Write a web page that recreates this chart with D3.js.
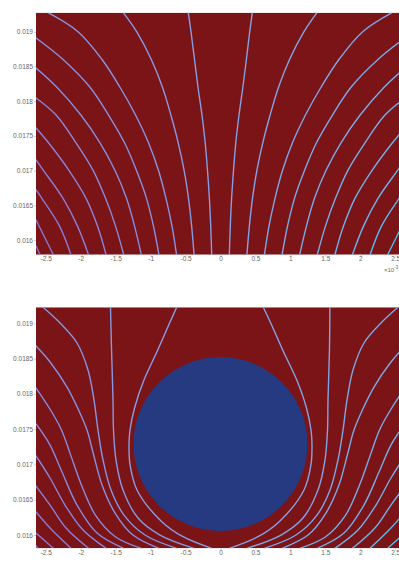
<!DOCTYPE html>
<html><head><meta charset="utf-8">
<script src="https://cdn.jsdelivr.net/npm/d3@7"></script>
<style>html,body{margin:0;padding:0;background:#fff;}svg{display:block;}</style>
</head><body>
<script>
// ---- data (x in units of 1e-3) ----
const xTicks = [-2.5,-2,-1.5,-1,-0.5,0,0.5,1,1.5,2,2.5];
const xTickLabels = ["-2.5","-2","-1.5","-1","-0.5","0","0.5","1","1.5","2","2.5"];
const yTicks = [0.016,0.0165,0.017,0.0175,0.018,0.0185,0.019];
const yTickLabels = ["0.016","0.0165","0.017","0.0175","0.018","0.0185","0.019"];
const xExtent = [-2.64, 2.64];
const topYExtent = [0.015788, 0.019274];
const bottomYExtent = [0.015812, 0.019227];
const inclusionCenter = [0, 0.01729];
const inclusionRadiusX = 1.245;
const inclusionRadiusY = 0.001232;

// field lines of the upper panel, left to right
const topPanelLines = [
 [[-2.639,0.015914],[-2.582,0.015788]],
 [[-2.639,0.016288],[-2.511,0.016029],[-2.392,0.015788]],
 [[-2.639,0.016720],[-2.556,0.0166],[-2.303,0.0162],[-2.140,0.015788]],
 [[-2.639,0.017152],[-2.532,0.0170],[-2.253,0.0166],[-2.046,0.0162],[-1.888,0.015788]],
 [[-2.639,0.017613],[-2.461,0.0174],[-2.167,0.0170],[-1.924,0.0166],[-1.760,0.0162],[-1.637,0.015788]],
 [[-2.639,0.018045],[-2.353,0.0178],[-2.067,0.0174],[-1.821,0.0170],[-1.645,0.0166],[-1.502,0.0162],[-1.385,0.015788]],
 [[-2.639,0.018477],[-2.341,0.0182],[-1.998,0.0178],[-1.724,0.0174],[-1.509,0.0170],[-1.345,0.0166],[-1.230,0.0162],[-1.133,0.015788]],
 [[-2.639,0.018909],[-2.253,0.0186],[-1.867,0.0182],[-1.602,0.0178],[-1.373,0.0174],[-1.202,0.0170],[-1.059,0.0166],[-0.959,0.0162],[-0.881,0.015788]],
 [[-2.468,0.019274],[-2.039,0.0190],[-1.695,0.0186],[-1.438,0.0182],[-1.216,0.0178],[-1.030,0.0174],[-0.887,0.0170],[-0.780,0.0166],[-0.694,0.0162],[-0.629,0.015788]],
 [[-1.391,0.019274],[-1.200,0.0190],[-0.990,0.0186],[-0.830,0.0182],[-0.710,0.0178],[-0.605,0.0174],[-0.520,0.0170],[-0.458,0.0166],[-0.413,0.0162],[-0.378,0.015788]],
 [[-0.461,0.019274],[-0.422,0.0190],[-0.372,0.0186],[-0.322,0.0182],[-0.265,0.0178],[-0.219,0.0174],[-0.186,0.0170],[-0.159,0.0166],[-0.140,0.0162],[-0.126,0.015788]],
 [[0.455,0.019274],[0.418,0.0190],[0.370,0.0186],[0.320,0.0182],[0.265,0.0178],[0.219,0.0174],[0.186,0.0170],[0.159,0.0166],[0.140,0.0162],[0.126,0.015788]],
 [[1.380,0.019274],[1.195,0.0190],[0.988,0.0186],[0.830,0.0182],[0.710,0.0178],[0.605,0.0174],[0.520,0.0170],[0.458,0.0166],[0.413,0.0162],[0.378,0.015788]],
 [[2.455,0.019274],[2.035,0.0190],[1.695,0.0186],[1.438,0.0182],[1.216,0.0178],[1.030,0.0174],[0.887,0.0170],[0.780,0.0166],[0.694,0.0162],[0.629,0.015788]],
 [[2.639,0.018909],[2.253,0.0186],[1.867,0.0182],[1.602,0.0178],[1.373,0.0174],[1.202,0.0170],[1.059,0.0166],[0.959,0.0162],[0.881,0.015788]],
 [[2.639,0.018477],[2.341,0.0182],[1.998,0.0178],[1.724,0.0174],[1.509,0.0170],[1.345,0.0166],[1.230,0.0162],[1.133,0.015788]],
 [[2.639,0.018045],[2.353,0.0178],[2.067,0.0174],[1.821,0.0170],[1.645,0.0166],[1.502,0.0162],[1.385,0.015788]],
 [[2.639,0.017613],[2.461,0.0174],[2.167,0.0170],[1.924,0.0166],[1.760,0.0162],[1.637,0.015788]],
 [[2.639,0.017152],[2.532,0.0170],[2.253,0.0166],[2.046,0.0162],[1.888,0.015788]],
 [[2.639,0.016720],[2.556,0.0166],[2.303,0.0162],[2.140,0.015788]],
 [[2.639,0.016288],[2.511,0.016029],[2.392,0.015788]],
 [[2.639,0.015914],[2.582,0.015788]]
];

// field lines of the lower panel (with the circular inclusion), left to right
const bottomPanelLines = [
 [[-2.639,0.015844],[-2.611,0.015812]],
 [[-2.639,0.016028],[-2.392,0.015812]],
 [[-2.639,0.016326],[-2.439,0.016099],[-2.140,0.015812]],
 [[-2.639,0.016694],[-2.439,0.016425],[-2.210,0.016099],[-1.888,0.015812]],
 [[-2.639,0.017120],[-2.439,0.016808],[-2.225,0.016425],[-1.967,0.016071],[-1.637,0.015812]],
 [[-2.639,0.017573],[-2.439,0.017275],[-2.268,0.016893],[-2.053,0.016425],[-1.767,0.016028],[-1.385,0.015812]],
 [[-2.639,0.018083],[-2.450,0.017800],[-2.280,0.017500],[-2.150,0.017150],[-1.990,0.016710],[-1.790,0.016283],[-1.500,0.015972],[-1.133,0.015812]],
 [[-2.639,0.018678],[-2.439,0.018452],[-2.196,0.018097],[-2.030,0.017771],[-1.910,0.017488],[-1.815,0.017134],[-1.695,0.016709],[-1.509,0.016312],[-1.252,0.016000],[-0.881,0.015812]],
 [[-2.539,0.019227],[-2.296,0.019004],[-2.053,0.018721],[-1.896,0.018338],[-1.810,0.017913],[-1.753,0.017488],[-1.681,0.017063],[-1.567,0.016638],[-1.381,0.016283],[-1.080,0.016000],[-0.629,0.015812]],
 [[-1.574,0.019227],[-1.559,0.018622],[-1.538,0.017913],[-1.531,0.017488],[-1.495,0.017063],[-1.395,0.016638],[-1.180,0.016241],[-0.866,0.016000],[-0.378,0.015812]],
 [[-0.627,0.019227],[-0.730,0.019000],[-0.908,0.018600],[-1.094,0.018199],[-1.230,0.017800],[-1.295,0.017488],[-1.309,0.017290],[-1.295,0.017000],[-1.195,0.016638],[-0.851,0.016200],[-0.536,0.015976],[-0.126,0.015812]],
 [[0.612,0.019227],[0.720,0.019000],[0.900,0.018600],[1.090,0.018199],[1.230,0.017800],[1.295,0.017488],[1.309,0.017290],[1.295,0.017000],[1.195,0.016638],[0.851,0.016200],[0.536,0.015976],[0.126,0.015812]],
 [[1.565,0.019227],[1.559,0.018622],[1.538,0.017913],[1.531,0.017488],[1.495,0.017063],[1.395,0.016638],[1.180,0.016241],[0.866,0.016000],[0.378,0.015812]],
 [[2.539,0.019227],[2.296,0.019004],[2.053,0.018721],[1.896,0.018338],[1.810,0.017913],[1.753,0.017488],[1.681,0.017063],[1.567,0.016638],[1.381,0.016283],[1.080,0.016000],[0.629,0.015812]],
 [[2.639,0.018678],[2.439,0.018452],[2.196,0.018097],[2.030,0.017771],[1.910,0.017488],[1.815,0.017134],[1.695,0.016709],[1.509,0.016312],[1.252,0.016000],[0.881,0.015812]],
 [[2.639,0.018083],[2.450,0.017800],[2.280,0.017500],[2.150,0.017150],[1.990,0.016710],[1.790,0.016283],[1.500,0.015972],[1.133,0.015812]],
 [[2.639,0.017573],[2.439,0.017275],[2.268,0.016893],[2.053,0.016425],[1.767,0.016028],[1.385,0.015812]],
 [[2.639,0.017120],[2.439,0.016808],[2.225,0.016425],[1.967,0.016071],[1.637,0.015812]],
 [[2.639,0.016694],[2.439,0.016425],[2.210,0.016099],[1.888,0.015812]],
 [[2.639,0.016326],[2.439,0.016099],[2.140,0.015812]],
 [[2.639,0.016028],[2.392,0.015812]],
 [[2.639,0.015844],[2.611,0.015812]]
];

// ---- drawing ----
const W = 399, H = 561;
const svg = d3.select("body").append("svg").attr("width", W).attr("height", H)
  .style("font-family", "'Liberation Sans', Arial, sans-serif");

const lineColor = d3.scaleLinear()
  .domain([0, 0.5, 0.85, 1])
  .range(["#8a72d4", "#86a0e6", "#6db2ec", "#2ccaf6"]);

function panel(id, yExtent, yRange, lines, withInclusion, showExponent) {
  const x = d3.scaleLinear().domain(xExtent).range([36, 405]);
  const y = d3.scaleLinear().domain(yExtent).range(yRange);
  const g = svg.append("g");
  g.append("clipPath").attr("id", id).append("rect")
    .attr("x", x(xExtent[0])).attr("y", y(yExtent[1]))
    .attr("width", x(xExtent[1]) - x(xExtent[0]))
    .attr("height", y(yExtent[0]) - y(yExtent[1]));
  const plot = g.append("g").attr("clip-path", `url(#${id})`);
  plot.append("rect")
    .attr("x", x(xExtent[0])).attr("y", y(yExtent[1]))
    .attr("width", x(xExtent[1]) - x(xExtent[0]))
    .attr("height", y(yExtent[0]) - y(yExtent[1]))
    .attr("fill", "#7b1416");
  if (withInclusion) {
    plot.append("ellipse")
      .attr("cx", x(inclusionCenter[0])).attr("cy", y(inclusionCenter[1]))
      .attr("rx", x(inclusionRadiusX) - x(0))
      .attr("ry", y(inclusionCenter[1] - inclusionRadiusY) - y(inclusionCenter[1]))
      .attr("fill", "#263a82");
  }
  const gen = d3.line().x(d => x(d[0])).y(d => y(d[1])).curve(d3.curveCatmullRom.alpha(0.5));
  plot.selectAll("path.fl").data(lines).join("path")
    .attr("class", "fl")
    .attr("d", gen)
    .attr("fill", "none")
    .attr("stroke", (d, i) => lineColor(i / (lines.length - 1)))
    .attr("stroke-width", 1.4)
    .attr("stroke-linecap", "round");

  const xAxis = d3.axisBottom(x).tickValues(xTicks)
    .tickFormat((d, i) => xTickLabels[i]).tickSize(2).tickPadding(0);
  const gx = g.append("g").attr("transform", `translate(0,${y(yExtent[0])})`).call(xAxis);
  const yAxis = d3.axisLeft(y).tickValues(yTicks)
    .tickFormat((d, i) => yTickLabels[i]).tickSize(2).tickPadding(1);
  const gy = g.append("g").attr("transform", `translate(${x(xExtent[0])},0)`).call(yAxis);
  [gx, gy].forEach(a => {
    a.select(".domain").remove();
    a.selectAll(".tick line").attr("stroke", "#ccc");
    a.selectAll("text").attr("fill", "#666").style("font-size", "6.5px");
  });
  if (showExponent) {
    const t = g.append("text").attr("x", 384).attr("y", y(yExtent[0]) + 17)
      .attr("fill", "#666").style("font-size", "6px");
    t.append("tspan").text("×10");
    t.append("tspan").attr("dy", -3).style("font-size", "4.5px").text("-3");
  }
}

panel("clipTop", topYExtent, [254.7, 12.7], topPanelLines, false, true);
panel("clipBottom", bottomYExtent, [548.3, 307.3], bottomPanelLines, true, false);
</script>
</body></html>
